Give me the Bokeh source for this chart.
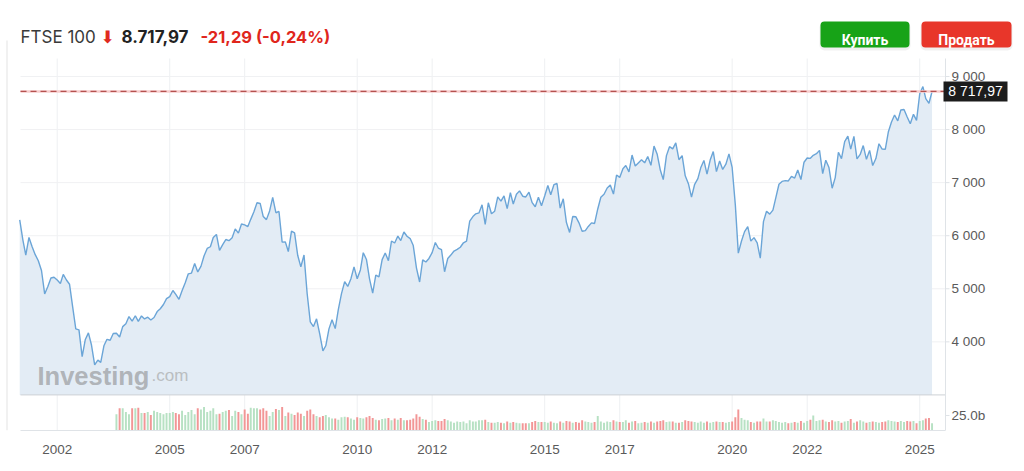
from datetime import datetime
from bokeh.plotting import figure
from bokeh.models import Range1d, FixedTicker, ColumnDataSource, DatetimeTickFormatter
from bokeh.core.properties import value
from bokeh.embed import file_html
from bokeh.resources import INLINE

# ---------------- data (monthly closes, FTSE 100) ----------------
first_year = 2001
p2001 = [6298, 5918, 5634, 5967, 5796, 5643, 5529, 5345, 4903, 5040, 5204, 5217]
p2002 = [5164, 5101, 5272, 5165, 5086, 4656, 4246, 4227, 3722, 4039, 4169, 3940]
p2003 = [3567, 3656, 3613, 3926, 4048, 4031, 4157, 4161, 4091, 4287, 4342, 4477]
p2004 = [4390, 4492, 4386, 4489, 4431, 4464, 4413, 4459, 4571, 4624, 4703, 4814]
p2005 = [4852, 4968, 4894, 4801, 4964, 5113, 5282, 5296, 5478, 5317, 5423, 5619]
p2006 = [5760, 5792, 5965, 6023, 5724, 5833, 5928, 5906, 5961, 6129, 6049, 6221]
p2007 = [6203, 6172, 6308, 6450, 6621, 6608, 6360, 6303, 6467, 6722, 6433, 6457]
p2008 = [5880, 5884, 5702, 6087, 6054, 5626, 5412, 5637, 4902, 4377, 4288, 4434]
p2009 = [4150, 3830, 3926, 4244, 4418, 4249, 4608, 4909, 5134, 5045, 5191, 5413]
p2010 = [5189, 5355, 5680, 5553, 5188, 4917, 5258, 5225, 5549, 5675, 5528, 5900]
p2011 = [5863, 5994, 5909, 6070, 5990, 5946, 5815, 5395, 5128, 5544, 5505, 5572]
p2012 = [5682, 5872, 5768, 5738, 5321, 5571, 5635, 5711, 5742, 5783, 5867, 5898]
p2013 = [6276, 6361, 6412, 6430, 6583, 6215, 6621, 6413, 6462, 6731, 6651, 6749]
p2014 = [6510, 6810, 6598, 6780, 6845, 6744, 6730, 6820, 6623, 6546, 6723, 6566]
p2015 = [6749, 6947, 6773, 6961, 6984, 6521, 6696, 6248, 6062, 6361, 6356, 6242]
p2016 = [6084, 6097, 6175, 6242, 6231, 6504, 6724, 6781, 6899, 6954, 6784, 7143]
p2017 = [7099, 7263, 7323, 7204, 7520, 7313, 7372, 7431, 7373, 7493, 7327, 7688]
p2018 = [7534, 7232, 7057, 7509, 7678, 7637, 7749, 7432, 7510, 7128, 6980, 6728]
p2019 = [6969, 7075, 7279, 7418, 7162, 7426, 7587, 7207, 7408, 7248, 7347, 7542]
p2020 = [7286, 6581, 5672, 5901, 6077, 6170, 5898, 5964, 5866, 5577, 6266, 6461]
p2021 = [6407, 6483, 6714, 6970, 7023, 7037, 7032, 7120, 7086, 7238, 7059, 7385]
p2022 = [7464, 7458, 7516, 7545, 7608, 7169, 7423, 7284, 6894, 7095, 7573, 7452]
p2023 = [7772, 7876, 7632, 7871, 7446, 7532, 7699, 7439, 7608, 7322, 7454, 7733]
p2024 = [7631, 7630, 7953, 8144, 8275, 8164, 8368, 8377, 8237, 8110, 8287, 8173]
p2025 = [8674, 8810, 8583, 8495, 8717.97]

# monthly volume in billions, starting Aug 2003
vol_start = (2003, 8)
v2003 = [27, 37, 37, 31, 27]
v2004 = [37, 37, 38, 29, 29, 31, 26, 33, 31, 29, 27, 29]
v2005 = [29, 31, 29, 27, 33, 26, 31, 34, 27, 37, 35, 39]
v2006 = [31, 33, 37, 27, 28, 31, 33, 34, 24, 33, 31, 27]
v2007 = [35, 28, 38, 37, 37, 35, 37, 33, 24, 31, 36, 34]
v2008 = [39, 24, 30, 28, 26, 30, 28, 24, 33, 35, 27, 24]
v2009 = [22, 24, 26, 22, 20, 20, 18, 22, 23, 22, 20, 18]
v2010 = [22, 21, 20, 22, 24, 21, 18, 17, 19, 20, 21, 17]
v2011 = [20, 18, 21, 17, 17, 18, 20, 27, 23, 19, 18, 14]
v2012 = [16, 17, 16, 16, 19, 17, 15, 13, 15, 14, 15, 12]
v2013 = [17, 15, 15, 17, 17, 18, 14, 13, 13, 14, 13, 12]
v2014 = [15, 13, 14, 13, 12, 12, 12, 12, 14, 16, 14, 14]
v2015 = [14, 13, 15, 13, 12, 15, 13, 16, 15, 13, 14, 13]
v2016 = [17, 15, 14, 13, 14, 24, 15, 13, 15, 14, 17, 15]
v2017 = [14, 14, 17, 13, 15, 16, 12, 13, 14, 13, 15, 13]
v2018 = [15, 16, 17, 14, 15, 15, 13, 13, 14, 17, 16, 15]
v2019 = [14, 13, 15, 13, 15, 13, 14, 15, 14, 14, 13, 14]
v2020 = [15, 22, 35, 21, 18, 17, 14, 13, 15, 15, 20, 15]
v2021 = [15, 17, 16, 14, 13, 14, 12, 13, 14, 13, 16, 13]
v2022 = [16, 18, 25, 16, 17, 18, 15, 14, 17, 15, 16, 13]
v2023 = [15, 16, 19, 13, 15, 17, 15, 13, 14, 15, 14, 13]
v2024 = [14, 15, 17, 16, 15, 14, 16, 14, 16, 15, 16, 12]
v2025 = [16, 17, 20, 21, 12]

tick_years = [2002, 2005, 2007, 2010, 2012, 2015, 2017, 2020, 2022, 2025]
price_ticks = [4000, 5000, 6000, 7000, 8000, 9000]
price_tick_labels = ["4 000", "5 000", "6 000", "7 000", "8 000", "9 000"]
vol_ticks = [25]
vol_tick_labels = ["25.0b"]

last_price = 8717.97
last_price_text = "8 717,97"
header_name = "FTSE 100"
header_arrow = "\u2b07"
header_price = "8.717,97"
header_change = "-21,29 (-0,24%)"
buy_text = "Купить"
sell_text = "Продать"
watermark_main = "Investing"
watermark_tail = ".com"

# ---------------- build series ----------------
prices = (p2001 + p2002 + p2003 + p2004 + p2005 + p2006 + p2007 + p2008 + p2009 + p2010 +
          p2011 + p2012 + p2013 + p2014 + p2015 + p2016 + p2017 + p2018 + p2019 + p2020 +
          p2021 + p2022 + p2023 + p2024 + p2025)
dates = [datetime(first_year + i // 12, i % 12 + 1, 1) for i in range(len(prices))]

vols = (v2003 + v2004 + v2005 + v2006 + v2007 + v2008 + v2009 + v2010 + v2011 + v2012 +
        v2013 + v2014 + v2015 + v2016 + v2017 + v2018 + v2019 + v2020 + v2021 + v2022 +
        v2023 + v2024 + v2025)
off = (vol_start[0] - first_year) * 12 + vol_start[1] - 1
vdates = [dates[off + i] for i in range(len(vols))]
vcolors = ["#b7e1c3" if prices[off + i] >= prices[off + i - 1] else "#f29696" for i in range(len(vols))]


def ms(d):
    return (d - datetime(1970, 1, 1)).total_seconds() * 1000.0


# ---------------- pixel geometry (page coords; canvas at 0,0) ----------------
W, H = 1024, 471
FL, FR, FT, FB = 20, 945, 58, 430           # chart pane edges
MS_PER_PX = 365.25 * 86400000 / 37.5
X_ANCHOR_PX = 56.7                          # 2002-01-01
Y9000_PX, PX_PER_1000 = 76.0, 53.07


def px_x(px):
    return ms(datetime(2002, 1, 1)) + (px - X_ANCHOR_PX) * MS_PER_PX


def px_y(py):
    return 9000 - (py - Y9000_PX) / PX_PER_1000 * 1000


vol_end = 25 * FB / 15.0                    # 25b spans 15 px above the baseline
pane_floor = 3000

p = figure(width=W, height=H, output_backend="svg", toolbar_location=None,
           x_axis_type="datetime", y_axis_location=None,
           x_range=Range1d(px_x(0), px_x(W)), y_range=Range1d(px_y(FB), px_y(0)),
           min_border_left=0, min_border_right=0, min_border_top=0, min_border_bottom=H - FB)
p.extra_y_ranges = {"vol": Range1d(0, vol_end)}
p.background_fill_color = "white"
p.border_fill_color = "white"
p.outline_line_color = None
p.xgrid.visible = False
p.ygrid.visible = False

xt = [ms(datetime(y, 1, 1)) for y in tick_years]
xl, xr, yb, yt = px_x(FL), px_x(FR), px_y(FB), px_y(FT)

# x axis (real bokeh axis, limited to chart pane)
p.xaxis.ticker = FixedTicker(ticks=xt)
p.xaxis.bounds = (xl, xr)
p.xaxis.formatter = DatetimeTickFormatter(years="%Y", months="%Y", days="%Y", hours="%Y")
p.xaxis.axis_line_color = "#dfe3e7"
p.xaxis.major_tick_line_color = None
p.xaxis.minor_tick_line_color = None
p.xaxis.major_label_text_font = "Liberation Sans"
p.xaxis.major_label_text_font_size = "13.5px"
p.xaxis.major_label_text_color = "#5a5a5a"
p.xaxis.major_label_standoff = 8

# grid lines inside the chart pane
p.segment(x0=xt, x1=xt, y0=[yb] * len(xt), y1=[yt] * len(xt), line_color="#eef0f2", line_width=1)
p.segment(x0=[xl] * len(price_ticks), x1=[xr] * len(price_ticks), y0=price_ticks, y1=price_ticks,
          line_color="#f0f1f3", line_width=1)

# price area + line
src = ColumnDataSource(dict(x=dates, y=prices, base=[pane_floor] * len(prices)))
p.varea(x="x", y1="base", y2="y", source=src, fill_color="#e3ecf5")
p.line(x="x", y="y", source=src, line_color="#6ba5d7", line_width=1.4)

# volume
vsrc = ColumnDataSource(dict(x=vdates, top=vols, c=vcolors))
p.vbar(x="x", top="top", bottom=0, width=19 * 86400000, source=vsrc, fill_color="c",
       line_color=None, y_range_name="vol")

# pane separator and right axis line
p.segment(x0=[xl], x1=[xr], y0=[pane_floor], y1=[pane_floor], line_color="#cdd1d5", line_width=1)
p.segment(x0=[xr], x1=[xr], y0=[yb], y1=[yt], line_color="#dfe3e7", line_width=1)

# right axis ticks and labels (price pane + volume pane)
tick_x0, tick_x1, lab_x = xr, px_x(FR + 4), px_x(FR + 6)
p.segment(x0=[tick_x0] * len(price_ticks), x1=[tick_x1] * len(price_ticks), y0=price_ticks,
          y1=price_ticks, line_color="#dfe3e7")
p.text(x=[lab_x] * len(price_ticks), y=price_ticks, text=price_tick_labels,
       text_font=value("Liberation Sans"), text_font_size="13.5px", text_color="#5a5a5a",
       text_baseline="middle", text_align="left")
p.segment(x0=[tick_x0] * len(vol_ticks), x1=[tick_x1] * len(vol_ticks), y0=vol_ticks, y1=vol_ticks,
          line_color="#dfe3e7", y_range_name="vol")
p.text(x=[lab_x] * len(vol_ticks), y=vol_ticks, text=vol_tick_labels, y_range_name="vol",
       text_font=value("Liberation Sans"), text_font_size="13.5px", text_color="#5a5a5a",
       text_baseline="middle", text_align="left")

# current price line
p.segment(x0=[xl], x1=[xr], y0=[last_price], y1=[last_price], line_color="#f7cccc", line_width=2.5)
p.segment(x0=[xl], x1=[xr], y0=[last_price], y1=[last_price], line_color="#b4514f",
          line_width=1.3, line_dash="6 4")

# price tag
tag_cx = px_x(975)
p.rect(x=[tag_cx], y=[last_price], width=64, height=20, width_units="screen", height_units="screen",
       fill_color="#1c1c1c", line_color=None)
p.text(x=[tag_cx], y=[last_price], text=[last_price_text], text_font=value("Liberation Sans"),
       text_font_size="14px", text_color="white", text_align="center", text_baseline="middle")

# watermark
p.text(x=[px_x(37)], y=[px_y(375)], text=[watermark_main], text_font=value("Liberation Sans"),
       text_font_style="bold", text_font_size="25.5px", text_color="#a9adb1", text_alpha=0.9,
       text_baseline="alphabetic")
p.text(x=[px_x(151)], y=[px_y(375)], text=[watermark_tail], text_font=value("Liberation Sans"),
       text_font_size="17px", text_color="#babec1", text_baseline="alphabetic")

# header
hy = px_y(36)
p.text(x=[px_x(20)], y=[hy], text=[header_name], text_font=value("Inter"), text_font_size="17px",
       text_color="#3a3a3a", text_baseline="alphabetic")
p.text(x=[px_x(100)], y=[hy], text=[header_arrow], text_font=value("DejaVu Sans"),
       text_font_size="17px", text_color="#e02a1f", text_baseline="alphabetic")
p.text(x=[px_x(121)], y=[hy], text=[header_price], text_font=value("Inter"), text_font_size="17px",
       text_font_style="bold", text_color="#222222", text_baseline="alphabetic")
p.text(x=[px_x(200)], y=[hy], text=[header_change], text_font=value("Inter"),
       text_font_size="16.5px", text_font_style="bold", text_color="#e0261c",
       text_baseline="alphabetic")

# buttons (soft shadow + body)
p.quad(left=[px_x(819), px_x(920)], right=[px_x(910), px_x(1012)], top=[px_y(22), px_y(22)],
       bottom=[px_y(50), px_y(50)], fill_color="#000000", fill_alpha=0.06, line_color=None,
       border_radius=5)
p.quad(left=[px_x(820), px_x(921)], right=[px_x(909), px_x(1011)], top=[px_y(21), px_y(21)],
       bottom=[px_y(47), px_y(47)], fill_color=["#17a317", "#e8362a"], line_color=None,
       border_radius=4)
p.text(x=[px_x(864.5), px_x(966)], y=[px_y(39.5), px_y(39.5)], text=[buy_text, sell_text],
       text_font=value("Roboto"), text_font_style="bold", text_font_size="14px",
       text_color="white", text_align="center", text_baseline="alphabetic")

# page border line on the left
p.segment(x0=[px_x(6.5)], x1=[px_x(6.5)], y0=[yb], y1=[px_y(40)], line_color="#e3e3e3", line_width=1)

open("out.html", "w").write(file_html(p, INLINE))
